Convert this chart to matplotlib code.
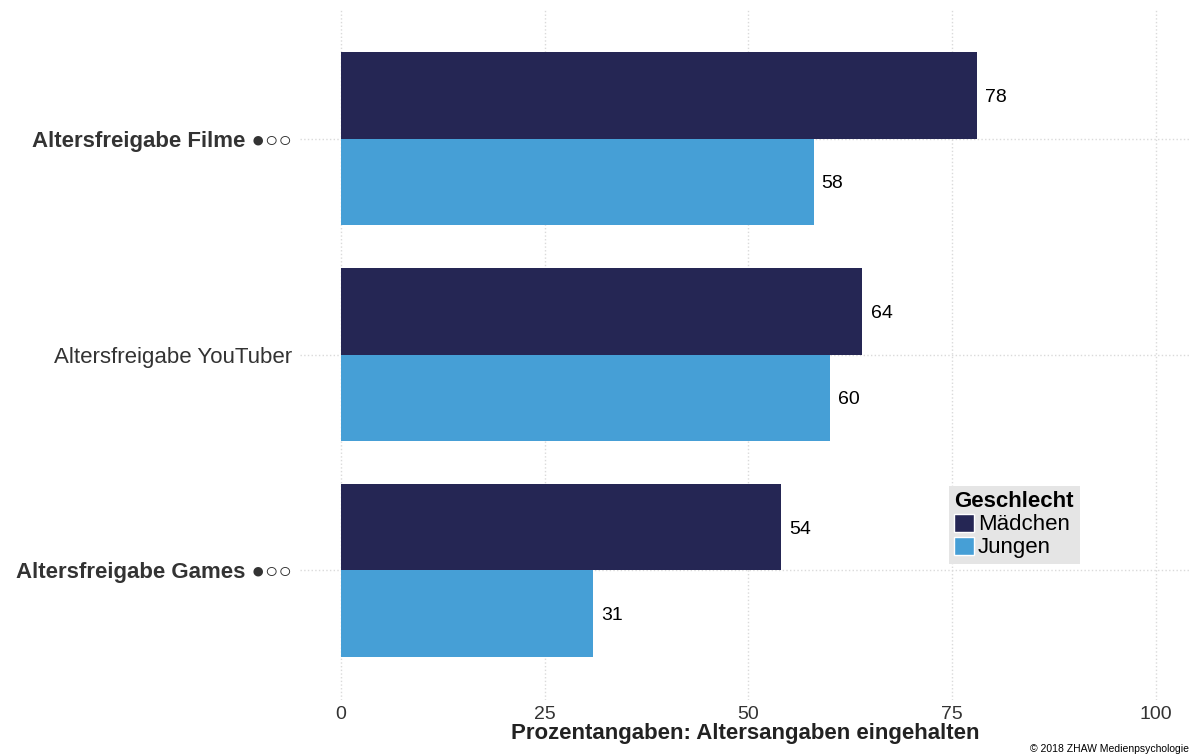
import matplotlib.pyplot as plt
from matplotlib.patches import Patch

plt.rcParams['font.family'] = ['Liberation Sans', 'DejaVu Sans']

kategorien = ['Altersfreigabe Games ●○○', 'Altersfreigabe YouTuber', 'Altersfreigabe Filme ●○○']
fett = [True, False, True]
maedchen = [54, 64, 78]
jungen = [31, 60, 58]
x_ticks = [0, 25, 50, 75, 100]

farbe_m = '#252654'
farbe_j = '#469FD6'

fig = plt.figure(figsize=(11.9, 7.56), dpi=100)
ax = fig.add_axes([0.2521, 0.074, 0.748, 0.914])

pos = list(range(len(kategorien)))
ax.barh([p + 0.2 for p in pos], maedchen, height=0.4, color=farbe_m, zorder=2)
ax.barh([p - 0.2 for p in pos], jungen, height=0.4, color=farbe_j, zorder=2)

for p, m, j in zip(pos, maedchen, jungen):
    ax.text(m + 1.0, p + 0.2, str(m), va='center_baseline', ha='left', fontsize=14, color='black')
    ax.text(j + 1.0, p - 0.2, str(j), va='center_baseline', ha='left', fontsize=14, color='black')

ax.set_xlim(-5, 104.2)
ax.set_ylim(-0.6, 2.6)
ax.set_xticks(x_ticks)
ax.set_xticklabels([str(t) for t in x_ticks], fontsize=14, color='#333333')
ax.set_yticks(pos)
ax.set_yticklabels(kategorien, fontsize=16, color='#333333')
for lbl, b in zip(ax.get_yticklabels(), fett):
    if b:
        lbl.set_fontweight('bold')
ax.tick_params(axis='both', length=0)
ax.tick_params(axis='y', pad=6)
ax.tick_params(axis='x', pad=4)

ax.grid(True, linestyle=':', color='#DADADA', linewidth=1, zorder=0)
ax.set_axisbelow(True)
for s in ax.spines.values():
    s.set_visible(False)

ax.set_xlabel('Prozentangaben: Altersangaben eingehalten', fontsize=16,
              fontweight='bold', color='#222222', labelpad=0)

handles = [Patch(facecolor=farbe_m, edgecolor='white', label='Mädchen'),
           Patch(facecolor=farbe_j, edgecolor='white', label='Jungen')]
leg = ax.legend(handles=handles, title='Geschlecht', loc='upper left',
                bbox_to_anchor=(0.729, 0.31), borderaxespad=0, fontsize=16,
                title_fontproperties={'weight': 'bold', 'size': 16},
                frameon=True, facecolor='#E5E5E5', edgecolor='none', fancybox=False,
                framealpha=1, handlelength=0.9, handleheight=0.9, handletextpad=0.15,
                labelspacing=0.05, borderpad=0.25, alignment='left')

fig.text(0.999, 0.002, '© 2018 ZHAW Medienpsychologie', fontsize=7.5, ha='right', va='bottom')

plt.savefig('out.png', dpi=100)
